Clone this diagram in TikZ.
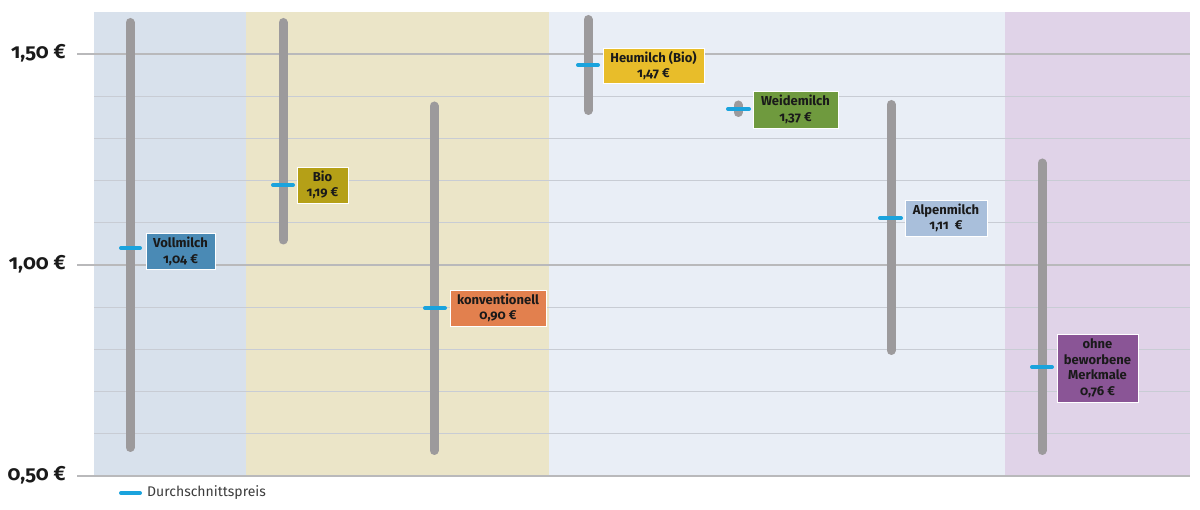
\documentclass[tikz,border=0pt]{standalone}
\usepackage{fontspec}
\setmainfont{Fira Sans}[Numbers=OldStyle]
\definecolor{pBlue}{HTML}{D8E1EC}
\definecolor{pYel}{HTML}{EBE5C8}
\definecolor{pLight}{HTML}{E9EEF6}
\definecolor{pPurp}{HTML}{E0D3E8}
\definecolor{barGrey}{HTML}{9C9A9C}
\definecolor{tickBlue}{HTML}{1AA3DD}
\definecolor{majGrid}{HTML}{B9B9BB}
\definecolor{minGrid}{HTML}{C8CCD4}
\definecolor{cVoll}{HTML}{4A8AB5}
\definecolor{cBio}{HTML}{B5A017}
\definecolor{cKonv}{HTML}{E2804E}
\definecolor{cHeu}{HTML}{E8BD2A}
\definecolor{cWeide}{HTML}{6F9A3E}
\definecolor{cAlpen}{HTML}{A9BFDB}
\definecolor{cOhne}{HTML}{8A5596}
\definecolor{txt}{HTML}{1A1A1A}
\tikzset{
  rangebar/.style={line width=9pt, line cap=round, barGrey},
  avgtick/.style={line width=4pt, line cap=round, tickBlue},
  pricelabel/.style={draw=white, line width=0.6pt, inner sep=0pt, align=center, text=txt,
     font=\bfseries\fontsize{13}{15.5}\selectfont},
  axislabel/.style={anchor=east, text=txt, font=\bfseries\fontsize{20.5}{24}\selectfont, inner sep=0pt},
  majorline/.style={majGrid, line width=1.6pt},
  minorline/.style={minGrid, line width=0.8pt},
}
\begin{document}
\begin{tikzpicture}[x=1pt,y=-1pt]
\useasboundingbox (0,0) rectangle (1200,510);
\fill[white] (0,0) rectangle (1200,510);
% panels
\fill[pBlue] (94,12) rectangle (246,476);
\fill[pYel] (246,12) rectangle (549,476);
\fill[pLight] (549,12) rectangle (1005,476);
\fill[pPurp] (1005,12) rectangle (1190,476);
% minor grid
\foreach \y in {96.2,138.4,180.6,222.8,307.2,349.4,391.6,433.8}
  \draw[minorline] (94,\y) -- (1190,\y);
% major grid
\foreach \y in {54,265,476}
  \draw[majorline] (77,\y) -- (1190,\y);
% axis labels
\node[axislabel] (a150) at (66,53) {1,50 €};
\node[axislabel] (a100) at (66,264) {1,00 €};
\node[axislabel] (a050) at (66,475) {0,50 €};
% bars
\draw[rangebar] (130,22.5) coordinate (v1) -- (130,447.5) coordinate (v2);
\draw[rangebar] (283,22.5) coordinate (b1) -- (283,240) coordinate (b2);
\draw[rangebar] (434,106) coordinate (k1) -- (434,450.5) coordinate (k2);
\draw[rangebar] (588,19.5) coordinate (h1) -- (588,110.5) coordinate (h2);
\draw[rangebar] (738,105) coordinate (w1) -- (738,112.5) coordinate (w2);
\draw[rangebar] (891,104.5) coordinate (al1) -- (891,350.5) coordinate (al2);
\draw[rangebar] (1042,163) coordinate (o1) -- (1042,450.5) coordinate (o2);
% average ticks
\draw[avgtick] (121,248) coordinate (vt1) -- (140,248) coordinate (vt2);
\draw[avgtick] (273,185) coordinate (bt1) -- (293,185) coordinate (bt2);
\draw[avgtick] (425,308) coordinate (kt1) -- (445,308) coordinate (kt2);
\draw[avgtick] (578,65) coordinate (ht1) -- (598,65) coordinate (ht2);
\draw[avgtick] (728,109) coordinate (wt1) -- (749,109) coordinate (wt2);
\draw[avgtick] (880,218) coordinate (at1) -- (901,218) coordinate (at2);
\draw[avgtick] (1032,367) coordinate (ot1) -- (1052,367) coordinate (ot2);
% labels
\node[pricelabel, fill=cVoll, minimum width=69pt, minimum height=36pt] (lv) at (180.5,251.5) {Vollmilch\\1,04 €};
\node[pricelabel, fill=cBio, minimum width=51pt, minimum height=36pt] (lb) at (322.5,185) {Bio\\1,19 €};
\node[pricelabel, fill=cKonv, minimum width=96pt, minimum height=36pt] (lk) at (498,308) {konventionell\\0,90 €};
\node[pricelabel, fill=cHeu, minimum width=101pt, minimum height=35pt] (lh) at (653.5,65.5) {Heumilch (Bio)\\1,47 €};
\node[pricelabel, fill=cWeide, minimum width=85pt, minimum height=37pt] (lw) at (795.5,109.5) {Weidemilch\\1,37 €};
\node[pricelabel, fill=cAlpen, minimum width=82pt, minimum height=36pt] (la) at (946,218) {Alpenmilch\\1,11\ \ €};
\node[pricelabel, fill=cOhne, minimum width=81pt, minimum height=68pt] (lo) at (1097.5,368) {ohne\\beworbene\\Merkmale\\0,76 €};
% legend
\draw[avgtick] (121,493) coordinate (lg1) -- (140,493) coordinate (lg2);
\node[anchor=west, inner sep=0pt, text=txt!85, font=\fontsize{14}{16}\selectfont] (lgt) at (147,493) {Durchschnittspreis};
\end{tikzpicture}
\end{document}
